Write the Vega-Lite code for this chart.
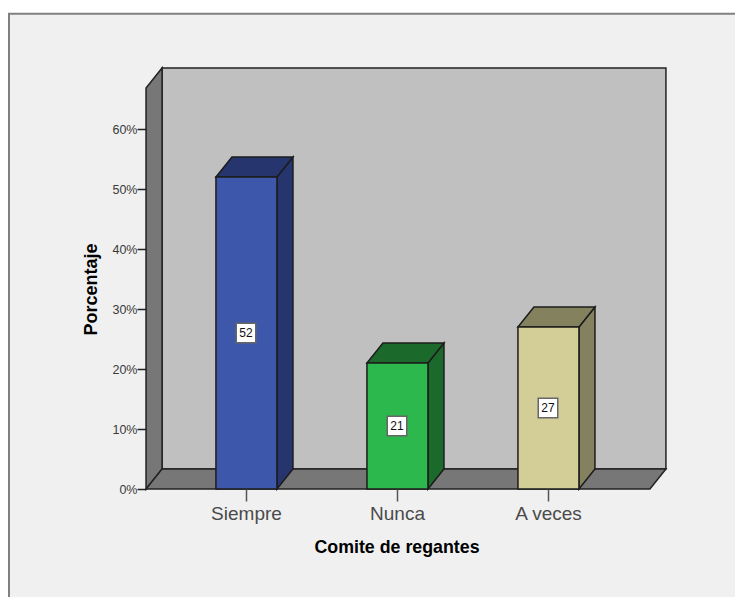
{
  "$schema": "https://vega.github.io/schema/vega-lite/v6.json",
  "width": 735, "height": 597, "padding": 0, "autosize": "none", "background": "#ffffff",
  "config": {"view": {"stroke": null}, "font": "Liberation Sans"},
  "datasets": {
    "bars": [
      {"category": "Siempre", "position": 0, "percent": 52, "label": 52},
      {"category": "Nunca", "position": 1, "percent": 21, "label": 21},
      {"category": "A veces", "position": 2, "percent": 27, "label": 27}
    ],
    "panel": [{"x": -1.5695, "x2": 3.3, "y": -20, "y2": 79.2}],
    "wall": [{"x": -0.556, "x2": 2.781, "y": 3.33, "y2": 70.17}],
    "leftWall": [
      {"x": -0.662, "y": 0, "y2": 66.83},
      {"x": -0.556, "y": 3.33, "y2": 70.17}
    ],
    "floor": [
      {"x": -0.662, "y": 0, "y2": 0},
      {"x": -0.556, "y": 0, "y2": 3.33},
      {"x": 2.675, "y": 0, "y2": 3.33},
      {"x": 2.781, "y": 3.33, "y2": 3.33}
    ]
  },
  "encoding": {
    "x": {
      "field": "x", "type": "quantitative",
      "scale": {"domain": [-1.6291, 3.2384], "nice": false, "zero": false},
      "axis": {
        "values": [0, 1, 2], "grid": false, "domain": false, "offset": -108, "zindex": 1,
        "labelExpr": "['Siempre','Nunca','A veces'][datum.value]",
        "labelFontSize": 19, "labelColor": "#4a4a4a", "labelPadding": 3, "labelFlush": false, "labelOverlap": false,
        "tickSize": 12, "tickColor": "#555555", "tickWidth": 1.5,
        "title": "Comite de regantes", "titleFontSize": 17.8, "titleFontWeight": "bold", "titleColor": "#000000",
        "titleX": 396.5, "titleY": 63, "titleAlign": "center", "titleBaseline": "alphabetic"
      }
    },
    "y": {
      "field": "y", "type": "quantitative",
      "scale": {"domain": [-18, 81.5], "nice": false, "zero": false},
      "axis": {
        "values": [0, 10, 20, 30, 40, 50, 60], "grid": false, "domain": false, "offset": -146, "zindex": 1,
        "labelExpr": "datum.value + '%'",
        "labelFontSize": 12.5, "labelColor": "#3a3a3a", "labelPadding": 0,
        "tickSize": 9, "tickColor": "#222222", "tickWidth": 1.5,
        "title": "Porcentaje", "titleFontSize": 18, "titleFontWeight": "bold", "titleColor": "#000000",
        "titleX": -50, "titleY": 289, "titleAngle": -90, "titleAlign": "center", "titleBaseline": "alphabetic"
      }
    }
  },
  "layer": [
    {
      "data": {"name": "panel"},
      "mark": {"type": "rect", "fill": "#f0f0f0", "stroke": "#808080", "strokeWidth": 2},
      "encoding": {"x2": {"field": "x2"}, "y2": {"field": "y2"}}
    },
    {
      "data": {"name": "wall"},
      "mark": {"type": "rect", "fill": "#c0c0c0", "stroke": "#222222", "strokeWidth": 1.5},
      "encoding": {"x2": {"field": "x2"}, "y2": {"field": "y2"}}
    },
    {
      "data": {"name": "leftWall"},
      "mark": {"type": "area", "orient": "vertical", "fill": "#777777", "stroke": "#222222", "strokeWidth": 1.5},
      "encoding": {"y2": {"field": "y2"}}
    },
    {
      "data": {"name": "floor"},
      "mark": {"type": "area", "orient": "vertical", "fill": "#777777", "stroke": "#222222", "strokeWidth": 1.5},
      "encoding": {"y2": {"field": "y2"}}
    },
    {
      "data": {"name": "bars"},
      "transform": [
        {"calculate": "[0,1]", "as": "corner"},
        {"flatten": ["corner"]},
        {"calculate": "datum.position + 0.205 + datum.corner * 0.106", "as": "x"},
        {"calculate": "datum.corner * 3.33", "as": "y"},
        {"calculate": "datum.percent + datum.corner * 3.33", "as": "y2"}
      ],
      "mark": {"type": "area", "orient": "vertical", "stroke": "#1c1c1c", "strokeWidth": 1.5, "opacity": 1},
      "encoding": {
        "y2": {"field": "y2"},
        "fill": {"field": "category", "type": "nominal", "legend": null,
          "scale": {"domain": ["Siempre", "Nunca", "A veces"], "range": ["#26356e", "#1b6a2c", "#84815f"]}}
      }
    },
    {
      "data": {"name": "bars"},
      "transform": [
        {"calculate": "[0,1,2,3]", "as": "corner"},
        {"flatten": ["corner"]},
        {"calculate": "datum.position + [-0.199, -0.093, 0.205, 0.311][datum.corner]", "as": "x"},
        {"calculate": "datum.percent + [0, 0, 0, 3.33][datum.corner]", "as": "y"},
        {"calculate": "datum.percent + [0, 3.33, 3.33, 3.33][datum.corner]", "as": "y2"}
      ],
      "mark": {"type": "area", "orient": "vertical", "stroke": "#1c1c1c", "strokeWidth": 1.5, "opacity": 1},
      "encoding": {
        "y2": {"field": "y2"},
        "fill": {"field": "category", "type": "nominal", "legend": null,
          "scale": {"domain": ["Siempre", "Nunca", "A veces"], "range": ["#26356e", "#1b6a2c", "#84815f"]}}
      }
    },
    {
      "data": {"name": "bars"},
      "transform": [
        {"calculate": "datum.position - 0.199", "as": "x"},
        {"calculate": "datum.position + 0.205", "as": "x2"},
        {"calculate": "0", "as": "y"},
        {"calculate": "datum.percent", "as": "y2"}
      ],
      "mark": {"type": "rect", "stroke": "#1c1c1c", "strokeWidth": 1.5},
      "encoding": {
        "x2": {"field": "x2"}, "y2": {"field": "y2"},
        "color": {"field": "category", "type": "nominal", "legend": null,
          "scale": {"domain": ["Siempre", "Nunca", "A veces"], "range": ["#3d58ab", "#2db84d", "#d3ce97"]}}
      }
    },
    {
      "data": {"name": "bars"},
      "transform": [
        {"calculate": "datum.position", "as": "x"},
        {"calculate": "datum.percent / 2", "as": "y"}
      ],
      "mark": {"type": "square", "size": 380, "fill": "#ffffff", "stroke": "#666666", "strokeWidth": 1.5, "opacity": 1}
    },
    {
      "data": {"name": "bars"},
      "transform": [
        {"calculate": "datum.position", "as": "x"},
        {"calculate": "datum.percent / 2", "as": "y"}
      ],
      "mark": {"type": "text", "fontSize": 12, "color": "#111111", "align": "center", "baseline": "middle"},
      "encoding": {"text": {"field": "label", "type": "nominal"}}
    }
  ],
  "resolve": {"scale": {"color": "independent", "fill": "shared"}}
}
